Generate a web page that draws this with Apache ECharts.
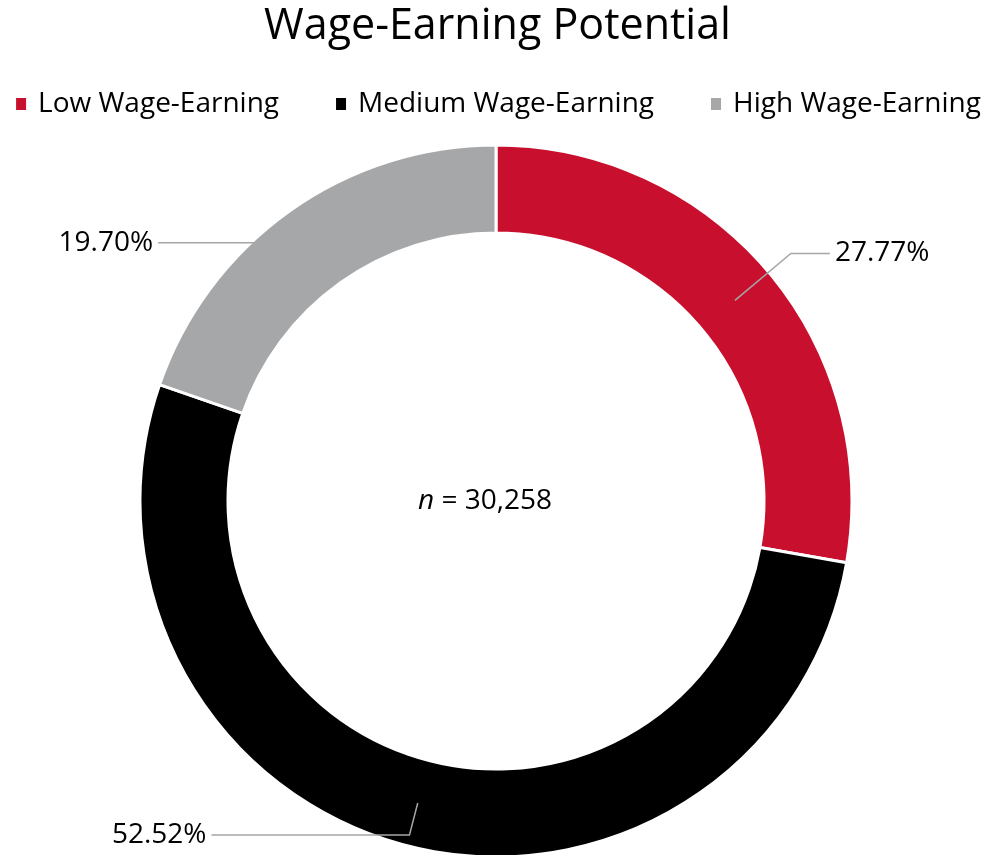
<!DOCTYPE html>
<html>
<head>
<meta charset="utf-8">
<script src="https://cdn.jsdelivr.net/npm/echarts@6/dist/echarts.min.js"></script>
<style>
  html, body { margin: 0; padding: 0; background: #fff; }
  #chart { width: 995px; height: 855px; }
</style>
</head>
<body>
<div id="chart"></div>
<script>
// 数据
const categories = ["Low Wage-Earning", "Medium Wage-Earning", "High Wage-Earning"]
const shares = [27.77, 52.52, 19.7]
const colors = ["#c8102e", "#000000", "#a5a7a9"]
const sampleN = 30258

// 引导线长度 [length, length2]
const guide = [[73, 39], [33, 198], [5, 154]]

const font = "Open Sans"
const cx = 496, cy = 501

const myChart = echarts.init(document.getElementById("chart"))

const ringData = categories.map((name, i) => ({
  name: name,
  value: shares[i],
  itemStyle: { color: colors[i] },
}))

// 透明的中间环，只用来画标签和引导线
const labelData = categories.map((name, i) => ({
  name: name,
  value: shares[i],
  labelLine: { length: guide[i][0], length2: guide[i][1] },
}))

const option = {
  animation: false,
  title: [
    {
      text: "Wage-Earning Potential",
      left: "center",
      top: 0,
      textStyle: { fontFamily: font, fontSize: 43, fontWeight: "normal", color: "#000" },
    },
  ],
  legend: {
    data: categories,
    top: 90,
    left: "center",
    padding: 0,
    icon: "rect",
    itemWidth: 12,
    itemHeight: 14,
    itemGap: 55,
    textStyle: { fontFamily: font, fontSize: 28, color: "#000", padding: [0, 0, 0, 6] },
  },
  graphic: [
    {
      type: "text",
      x: 485,
      y: cy,
      style: {
        text: "{i|n} = " + sampleN.toLocaleString("en-US"),
        align: "center",
        verticalAlign: "middle",
        fontFamily: font,
        fontSize: 28,
        fill: "#000",
        rich: {
          i: { fontFamily: font, fontSize: 28, fontStyle: "italic", color: "#000" },
        },
      },
    },
  ],
  series: [
    {
      name: "ring",
      type: "pie",
      z: 2,
      center: [cx, cy],
      radius: [268, 356],
      startAngle: 90,
      clockwise: true,
      avoidLabelOverlap: false,
      silent: true,
      label: { show: false },
      labelLine: { show: false },
      itemStyle: { borderColor: "#fff", borderWidth: 3 },
      data: ringData,
    },
    {
      name: "labels",
      type: "pie",
      z: 10,
      center: [cx, cy],
      radius: [311, 312],
      startAngle: 90,
      clockwise: true,
      avoidLabelOverlap: false,
      silent: true,
      itemStyle: { color: "rgba(0,0,0,0)" },
      label: {
        show: true,
        position: "outside",
        fontFamily: font,
        fontSize: 28,
        color: "#000",
        formatter: (p) => p.value.toFixed(2) + "%",
      },
      labelLine: {
        show: true,
        smooth: false,
        lineStyle: { color: "#a6a6a6", width: 1.5 },
      },
      data: labelData,
    },
  ],
}

myChart.setOption(option)
</script>
</body>
</html>
